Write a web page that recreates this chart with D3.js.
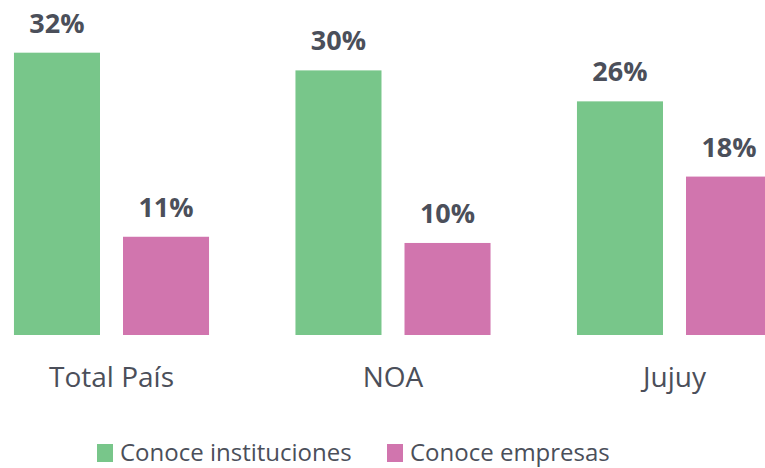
<!DOCTYPE html>
<html>
<head>
<meta charset="utf-8">
<script src="https://d3js.org/d3.v7.min.js"></script>
<style>
  body { margin: 0; background: #fff; }
  svg { display: block; font-family: "Open Sans", sans-serif; }
</style>
</head>
<body>
<svg id="chart" width="765" height="468"></svg>
<script>
var categories = ["Total País", "NOA", "Jujuy"];
var seriesNames = ["Conoce instituciones", "Conoce empresas"];
var instituciones = [31.9, 29.9, 26.4];
var empresas = [11.1, 10.4, 17.9];
var colors = ["#78c68a", "#d175ae"];

var svg = d3.select("#chart");
var txt = "#4b4f5a";

var x0 = d3.scaleBand().domain(categories).range([-29.25, 815.25])
    .paddingInner(0.307).paddingOuter(0.1535);
var x1 = d3.scaleBand().domain(seriesNames).range([0, x0.bandwidth()])
    .paddingInner(0.211).paddingOuter(0);
var y = d3.scaleLinear().domain([0, 35]).range([335, 335 - 35 * 8.85]);

var rows = categories.map(function(c, i){
  return { cat: c, vals: [instituciones[i], empresas[i]] };
});

var g = svg.selectAll("g.grp").data(rows).enter().append("g")
    .attr("class", "grp")
    .attr("transform", function(d){ return "translate(" + x0(d.cat) + ",0)"; });

g.selectAll("rect").data(function(d){ return d.vals; }).enter().append("rect")
    .attr("x", function(d, j){ return x1(seriesNames[j]); })
    .attr("y", function(d){ return y(d); })
    .attr("width", x1.bandwidth())
    .attr("height", function(d){ return y(0) - y(d); })
    .attr("fill", function(d, j){ return colors[j]; });

g.selectAll("text.val").data(function(d){ return d.vals; }).enter().append("text")
    .attr("class", "val")
    .attr("x", function(d, j){ return x1(seriesNames[j]) + x1.bandwidth() / 2; })
    .attr("y", function(d){ return y(d) - 20; })
    .attr("text-anchor", "middle")
    .attr("font-size", 27).attr("font-weight", "bold")
    .attr("fill", txt)
    .text(function(d){ return Math.round(d) + "%"; });

// category axis, no line or ticks
var xAxis = svg.append("g").attr("transform", "translate(0,335)")
    .call(d3.axisBottom(x0).tickSize(0).tickPadding(0));
xAxis.select(".domain").remove();
xAxis.selectAll("text")
    .attr("y", 52).attr("dy", 0)
    .attr("font-size", 28).attr("font-family", "Open Sans, sans-serif")
    .attr("fill", txt);

// legend
var legX = [97, 387];
var leg = svg.selectAll("g.leg").data(seriesNames).enter().append("g")
    .attr("class", "leg")
    .attr("transform", function(d, j){ return "translate(" + legX[j] + ",444)"; });
leg.append("rect").attr("width", 16).attr("height", 18)
    .attr("fill", function(d, j){ return colors[j]; });
leg.append("text").attr("x", 23).attr("y", 17)
    .attr("font-size", 24).attr("fill", txt)
    .text(function(d){ return d; });
</script>
</body>
</html>
